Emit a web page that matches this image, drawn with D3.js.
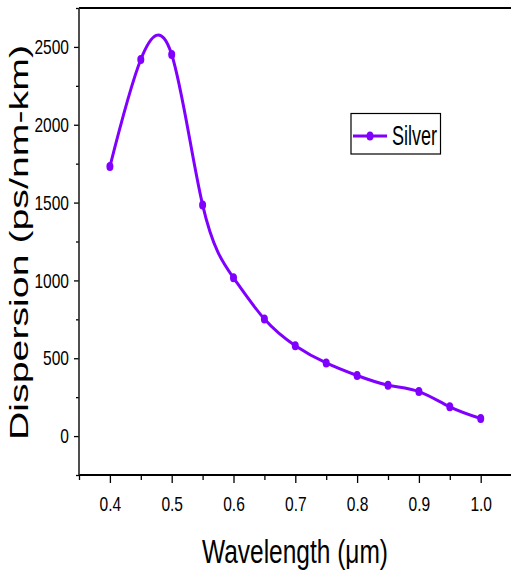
<!DOCTYPE html>
<html>
<head>
<meta charset="utf-8">
<script src="https://cdn.jsdelivr.net/npm/d3@7"></script>
<style>
  html, body { margin: 0; padding: 0; background: #fff; }
  svg { display: block; }
  text { font-family: "Liberation Sans", Arial, sans-serif; fill: #000; }
</style>
</head>
<body>
<svg id="chart" width="511" height="581"></svg>
<script>
// Chromatic dispersion of silver versus wavelength
const wavelength = [0.40, 0.45, 0.50, 0.55, 0.60, 0.65, 0.70, 0.75, 0.80, 0.85, 0.90, 0.95, 1.00];
const dispersion = [1731, 2419, 2451, 1485, 1017, 752, 581, 470, 389, 327, 286, 188, 113];
const seriesName = "Silver";

const xMajorTicks = [0.4, 0.5, 0.6, 0.7, 0.8, 0.9, 1.0];
const xMinorTicks = [0.35, 0.45, 0.55, 0.65, 0.75, 0.85, 0.95, 1.05];
const yMajorTicks = [0, 500, 1000, 1500, 2000, 2500];
const yMinorTicks = [-250, 250, 750, 1250, 1750, 2250, 2750];

const xTitle = "Wavelength (\u03bcm)";
const yTitle = "Dispersion (ps/nm-km)";

const color = "#8000ff";
const svg = d3.select("#chart");

const plotLeft = 79, plotTop = 8, plotBottom = 475;
const x = d3.scaleLinear().domain([0.35, 1.05]).range([plotLeft, plotLeft + 0.7 * 618]);
const y = d3.scaleLinear().domain([-250, 2750]).range([plotBottom, plotTop]);

// squeeze a text element horizontally to a narrow face
function narrow(sel, factor) {
  sel.each(function () {
    const w = this.getComputedTextLength();
    d3.select(this).attr("textLength", w * factor).attr("lengthAdjust", "spacingAndGlyphs");
  });
}

// frame: top border line
svg.append("line")
  .attr("x1", plotLeft).attr("x2", 511).attr("y1", plotTop).attr("y2", plotTop)
  .attr("stroke", "#000").attr("stroke-width", 2);

// x axis
const xAxis = svg.append("g").attr("transform", `translate(0,${plotBottom})`);
xAxis.call(d3.axisBottom(x).tickValues(xMinorTicks).tickSize(5).tickFormat(""))
  .call(g => g.select(".domain").remove());
xAxis.append("g").call(d3.axisBottom(x).tickValues(xMajorTicks).tickSize(8).tickPadding(13)
    .tickFormat(d3.format(".1f")))
  .call(g => g.select(".domain").remove())
  .call(g => g.selectAll("text").attr("font-size", 21).style("font-family", '"Liberation Sans", Arial, sans-serif'));
xAxis.selectAll(".tick line").attr("stroke", "#000").attr("stroke-width", 1.3);
xAxis.append("line").attr("x1", plotLeft).attr("x2", 511).attr("stroke", "#000").attr("stroke-width", 2.2);
narrow(xAxis.selectAll("text"), 0.74);

// y axis
const yAxis = svg.append("g").attr("transform", `translate(${plotLeft},0)`);
yAxis.call(d3.axisLeft(y).tickValues(yMinorTicks).tickSize(3).tickFormat(""))
  .call(g => g.select(".domain").remove());
yAxis.append("g").call(d3.axisLeft(y).tickValues(yMajorTicks).tickSize(5).tickPadding(5)
    .tickFormat(d3.format("d")))
  .call(g => g.select(".domain").remove())
  .call(g => g.selectAll("text").attr("font-size", 21).style("font-family", '"Liberation Sans", Arial, sans-serif'));
yAxis.selectAll(".tick line").attr("stroke", "#000").attr("stroke-width", 1.3);
yAxis.append("line").attr("y1", plotTop).attr("y2", plotBottom).attr("stroke", "#222").attr("stroke-width", 1.6);
narrow(yAxis.selectAll("text"), 0.74);

// series line and markers
const pts = wavelength.map((w, i) => [w, dispersion[i]]);
const line = d3.line().x(d => x(d[0])).y(d => y(d[1])).curve(d3.curveNatural);
svg.append("path").datum(pts)
  .attr("d", line).attr("fill", "none").attr("stroke", color).attr("stroke-width", 3);
svg.append("g").selectAll("ellipse").data(pts).join("ellipse")
  .attr("cx", d => x(d[0])).attr("cy", d => y(d[1]))
  .attr("rx", 3.5).attr("ry", 4.5).attr("fill", color);

// legend
const lg = svg.append("g");
lg.append("rect").attr("x", 351).attr("y", 113.5).attr("width", 89.5).attr("height", 40.5)
  .attr("fill", "#fff").attr("stroke", "#000").attr("stroke-width", 1.2);
lg.append("line").attr("x1", 353).attr("x2", 387).attr("y1", 136).attr("y2", 136)
  .attr("stroke", color).attr("stroke-width", 3);
lg.append("ellipse").attr("cx", 370).attr("cy", 136).attr("rx", 3.5).attr("ry", 4.5).attr("fill", color);
lg.append("text").attr("x", 392).attr("y", 144.5).attr("font-size", 27)
  .attr("textLength", 45).attr("lengthAdjust", "spacingAndGlyphs").text(seriesName);

// axis titles
svg.append("text").attr("x", 295).attr("y", 563).attr("text-anchor", "middle")
  .attr("font-size", 33).attr("textLength", 186).attr("lengthAdjust", "spacingAndGlyphs")
  .text(xTitle);
svg.append("text").attr("transform", "translate(28,242.5) rotate(-90)").attr("text-anchor", "middle")
  .attr("font-size", 26).attr("textLength", 395).attr("lengthAdjust", "spacingAndGlyphs")
  .text(yTitle);
</script>
</body>
</html>
